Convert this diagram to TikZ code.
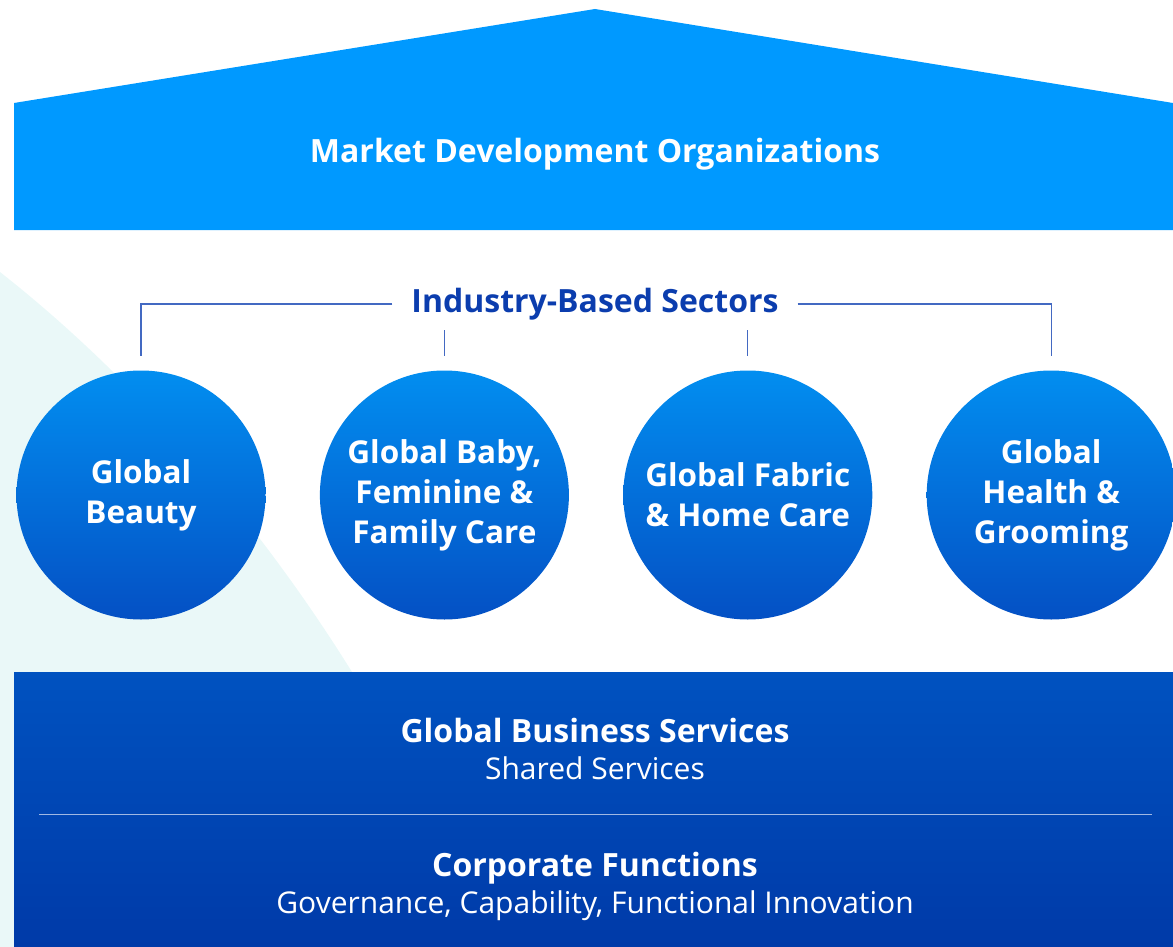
\documentclass[tikz,border=0pt]{standalone}
\usepackage{fontspec}
\setmainfont{Open Sans}
\usepackage{xcolor}
\usetikzlibrary{positioning}
\definecolor{mdoblue}{RGB}{0,153,255}
\definecolor{paleteal}{RGB}{234,248,248}
\definecolor{circtop}{RGB}{2,142,240}
\definecolor{circbot}{RGB}{4,80,196}
\definecolor{bandtop}{RGB}{0,82,192}
\definecolor{bandbot}{RGB}{0,58,168}
\definecolor{bracketblue}{RGB}{67,105,194}
\definecolor{titleblue}{RGB}{11,61,174}
\definecolor{divline}{RGB}{160,184,227}
\tikzset{sector/.style={circle,top color=circtop,bottom color=circbot,minimum size=249pt,inner sep=0pt,text=white,align=center,font=\fontsize{31.5}{40}\selectfont\bfseries},}
\tikzset{head/.style={text=white,font=\fontsize{32}{38}\selectfont\bfseries,inner sep=0pt},
         sub/.style={text=white,font=\fontsize{30}{36}\selectfont,inner sep=0pt},}
\tikzstyle{bracket} = [draw=bracketblue,line width=1.2pt]

\begin{document}
\begin{tikzpicture}[x=1pt,y=-1pt]
    \useasboundingbox (0,0) rectangle (1173,947);
    % pale background
    \fill[paleteal] (0,272) .. controls (150,390) and (270,540) .. (352,672) -- (420,947) -- (0,947) -- cycle;

    % roof
    \fill[mdoblue] (14,230) -- (14,103) -- (595,9) -- (1173,103) -- (1173,230) -- cycle;
    \node[head] (mdo) at (595,154) {Market Development Organizations};

    % sectors
    \node[text=titleblue,font=\fontsize{32}{38}\selectfont\bfseries,inner xsep=19pt,inner ysep=0pt] (ibs) at (595,304) {Industry-Based Sectors};
    \node[sector] (beauty) at (141,495) {Global\\Beauty};
    \node[sector] (baby)[right=54pt of beauty] {Global Baby,\\Feminine \&\\Family Care};
    \node[sector] (fabric)[right=54pt of baby] {Global Fabric\\\& Home Care};
    \node[sector] (health)[right=54pt of fabric] {Global\\Health \&\\Grooming};

    \draw [bracket] (ibs.west) -| ([yshift=14pt]beauty.north);
    \draw [bracket] (ibs.east) -| ([yshift=14pt]health.north);
    \draw [bracket] ([yshift=40pt]baby.north) -- ([yshift=14pt]baby.north);
    \draw [bracket] ([yshift=40pt]fabric.north) -- ([yshift=14pt]fabric.north);

    % foundation
    \shade[top color=bandtop,bottom color=bandbot] (14,672) rectangle (1173,947);
    \draw[divline,line width=1pt] (39,814) -- (1152,814);
    \node[head] (gbs) at (595,730) {Global Business Services};
    \node[sub] (shared) at (595,768) {Shared Services};
    \node[head] (corp) at (595,868) {Corporate Functions};
    \node[sub] (gov) at (595,906) {Governance, Capability, Functional Innovation};

\end{tikzpicture}
\end{document}
